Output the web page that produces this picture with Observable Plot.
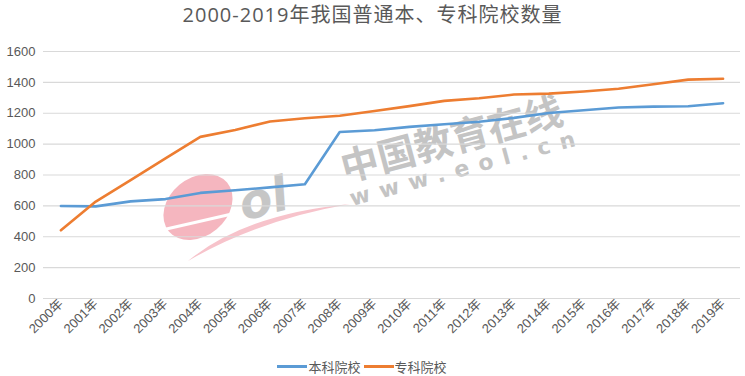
<!DOCTYPE html>
<html>
<head>
<meta charset="utf-8">
<script src="https://cdn.jsdelivr.net/npm/d3@7"></script>
<script src="https://cdn.jsdelivr.net/npm/@observablehq/plot@0.6"></script>
<style>
  html, body { margin: 0; padding: 0; background: #fff; }
  body { width: 745px; height: 376px; overflow: hidden; position: relative;
         font-family: "Liberation Sans", "Noto Sans CJK SC", sans-serif; color: #595959; }
  #title { height: 30px; line-height: 30px; text-align: center; font-size: 20px; color: #595959;
           font-family: "Open Sans", "Noto Sans CJK SC", sans-serif; letter-spacing: 1px; }
  #chart { position: relative; height: 326px; }
  #wm { position: absolute; left: 0; top: 0; }
  #plot { position: absolute; left: 0; top: 0; }
  #legend { height: 20px; display: flex; justify-content: center; align-items: center;
            font-size: 13px; color: #595959; font-family: "Noto Sans CJK SC", sans-serif; margin-left: -18px; }
  .sw { display: inline-block; width: 30px; height: 3px; margin-right: 1px; }
  .item { display: flex; align-items: center; margin-right: 3px; }
</style>
</head>
<body>
<div id="title">2000-2019年我国普通本、专科院校数量</div>
<div id="chart">
  <svg id="wm" width="745" height="326" xmlns="http://www.w3.org/2000/svg">
    <g opacity="0.85">
      <ellipse cx="198" cy="177" rx="29" ry="38" transform="rotate(50 198 177)" fill="#f4aab5"/>
      <path d="M162,200 L245,181" stroke="#fff" stroke-width="3" fill="none"/>
      <path d="M188,231 Q245,184 350,174 Q258,190 188,231 Z" fill="#f6b9c2"/>
      <text x="238" y="182" font-size="48" font-weight="bold" fill="#bdbdbd" font-family="DejaVu Sans" font-style="italic" transform="rotate(-15 275 165)">ol</text>
    </g>
    <text x="345" y="152" font-size="38" font-weight="bold" fill="#c4c4c4" font-family="Noto Sans CJK SC" transform="rotate(-15 345 152)">中国教育在线</text>
    <text x="352" y="176" font-size="22" font-weight="bold" fill="#c4c4c4" font-family="DejaVu Sans" letter-spacing="10" transform="rotate(-15 352 176)">www.eol.cn</text>
  </svg>
  <div id="plot"></div>
</div>
<div id="legend">
  <span class="item"><span class="sw" style="background:#5b9bd5"></span>本科院校</span>
  <span class="item"><span class="sw" style="background:#ed7d31"></span>专科院校</span>
</div>
<script>
const years = ["2000年","2001年","2002年","2003年","2004年","2005年","2006年","2007年","2008年","2009年",
               "2010年","2011年","2012年","2013年","2014年","2015年","2016年","2017年","2018年","2019年"];
const benke = [599, 597, 629, 644, 684, 701, 720, 740, 1079, 1090, 1112, 1129, 1145, 1170, 1202, 1219, 1237, 1243, 1245, 1265];
const zhuanke = [442, 628, 767, 908, 1047, 1091, 1147, 1168, 1184, 1215, 1246, 1280, 1297, 1321, 1327, 1341, 1359, 1388, 1418, 1423];
const seriesNames = ["本科院校", "专科院校"];
const seriesColors = ["#5b9bd5", "#ed7d31"];
const yTicks = [0, 200, 400, 600, 800, 1000, 1200, 1400, 1600];

const data = [];
years.forEach((y, i) => {
  data.push({year: y, value: benke[i], series: seriesNames[0]});
  data.push({year: y, value: zhuanke[i], series: seriesNames[1]});
});

const chart = Plot.plot({
  width: 745,
  height: 326,
  marginTop: 21,
  marginBottom: 58,
  marginLeft: 43,
  marginRight: 5,
  style: {background: "transparent", fontFamily: "'Liberation Sans', 'Noto Sans CJK SC', sans-serif", fontSize: "12.5px", color: "#595959"},
  x: {type: "point", domain: years, padding: 0.5, round: false, label: null},
  y: {domain: [0, 1600], label: null},
  color: {domain: seriesNames, range: seriesColors},
  marks: [
    Plot.gridY(yTicks, {stroke: "#d9d9d9", strokeOpacity: 1, strokeWidth: 1.2}),
    Plot.axisY(yTicks, {tickSize: 0, tickPadding: 8, label: null, fontSize: 13, tickFormat: d => String(d)}),
    Plot.axisX({tickSize: 0, tickPadding: 3, tickRotate: -45, label: null, fontSize: 13}),
    Plot.line(data, {x: "year", y: "value", z: "series", stroke: "series", strokeWidth: 2.6, strokeLinejoin: "round"})
  ]
});
document.getElementById("plot").appendChild(chart);
</script>
</body>
</html>
